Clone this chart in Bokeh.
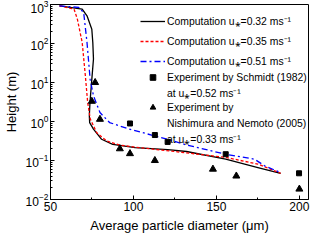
from bokeh.plotting import figure
from bokeh.models import Legend, LegendItem, FixedTicker, LogTicker
from bokeh.embed import file_html
from bokeh.resources import INLINE

# Computation curves (diameter um, height m)
d_032 = [55.4, 69.1, 72.0, 74.9, 75.5, 75.9, 74.9, 73.8, 73.4, 73.6, 75.9, 80.8, 87.5, 101, 120.6, 132, 155.6, 175, 188.7]
h_032 = [925, 760, 513, 232, 106, 40, 12, 3.1, 1.4, 0.94, 0.64, 0.35, 0.26, 0.215, 0.19, 0.17, 0.108, 0.066, 0.047]

d_035 = [55.4, 64.2, 66.2, 69.1, 71.0, 72.4, 74.0, 77.8, 83.7, 91.4, 101, 126.5, 155.6, 175, 188.7]
h_035 = [925, 760, 420, 106, 15, 3.1, 1.15, 0.52, 0.32, 0.25, 0.22, 0.167, 0.12, 0.081, 0.047]

d_051 = [55.4, 67.1, 70.0, 72.0, 73.9, 75.9, 79.8, 85.6, 97.3, 110.9, 120.6, 132, 155.6, 173, 179, 188.7]
h_051 = [925, 840, 620, 106, 12, 4.56, 1.7, 0.94, 0.64, 0.45, 0.35, 0.25, 0.145, 0.108, 0.073, 0.049]

# Experiments
d_schmidt = [97.9, 112.9, 120.6, 155.6, 199.8]
h_schmidt = [0.89, 0.45, 0.30, 0.145, 0.047]

d_nishi = [76.9, 74.9, 79.8, 91.8, 97.9, 112.9, 147.9, 162, 200]
h_nishi = [10, 3.3, 1.14, 0.2, 0.15, 0.1, 0.06, 0.04, 0.0185]

x_ticks = [50, 100, 150, 200]
x_minor = [75, 125, 175]

US = "u\u204e"
MS = "ms\u207b\u00b9"
labels_comp = [f"Computation {US}=0.32 {MS}",
               f"Computation {US}=0.35 {MS}",
               f"Computation {US}=0.51 {MS}"]
labels_schmidt = ["Experiment by Schmidt (1982)", f"at {US}=0.52 {MS}"]
labels_nishi = ["Experiment by", "Nishimura and Nemoto (2005)", f"at {US}=0.33 {MS}"]

FONT = "Liberation Sans"

p = figure(width=310, height=236, y_axis_type="log",
           x_range=(50, 205.5), y_range=(0.01, 1000),
           output_backend="svg", toolbar_location=None,
           min_border_left=41, min_border_right=2, min_border_top=4, min_border_bottom=37)

r1 = p.line(d_032, h_032, line_color="black", line_width=1.3)
r2 = p.line(d_035, h_035, line_color="red", line_width=1.3, line_dash="3 2")
r3 = p.line(d_051, h_051, line_color="blue", line_width=1.3, line_dash="6 3 2 3")
r4 = p.scatter(d_schmidt, h_schmidt, marker="square", size=5, color="black")
r5 = p.scatter(d_nishi, h_nishi, marker="triangle", size=7, color="black")
blank = p.scatter(x=[], y=[], alpha=0)

p.grid.visible = False
p.outline_line_color = "black"
p.outline_line_width = 1

p.xaxis.ticker = FixedTicker(ticks=x_ticks, minor_ticks=x_minor)
p.yaxis.ticker = LogTicker(num_minor_ticks=10)

for ax in (p.xaxis, p.yaxis):
    ax.major_tick_in = 4
    ax.major_tick_out = 0
    ax.minor_tick_in = 2
    ax.minor_tick_out = 0
    ax.major_label_text_font = FONT
    ax.major_label_text_font_size = "12px"
    ax.major_label_text_color = "black"
    ax.axis_label_text_font = FONT
    ax.axis_label_text_font_size = "13px"
    ax.axis_label_text_font_style = "normal"
    ax.axis_label_text_color = "black"
    ax.axis_line_color = "black"
    ax.major_tick_line_color = "black"
    ax.minor_tick_line_color = "black"
    ax.major_label_standoff = 2
    ax.axis_label_standoff = 4

p.xaxis.axis_label = "Average particle diameter (\u03bcm)"
p.yaxis.axis_label = "Height (m)"


def make_legend(items, loc, spacing):
    lg = Legend(items=items, location=loc)
    lg.label_text_font = FONT
    lg.label_text_font_size = "10.4px"
    lg.label_text_color = "black"
    lg.glyph_width = 25
    lg.glyph_height = 14
    lg.label_height = 14
    lg.spacing = spacing
    lg.padding = 0
    lg.margin = 0
    lg.label_standoff = 2
    lg.border_line_color = None
    lg.background_fill_alpha = 0
    p.add_layout(lg)


make_legend([LegendItem(label=labels_comp[0], renderers=[r1]),
             LegendItem(label=labels_comp[1], renderers=[r2]),
             LegendItem(label=labels_comp[2], renderers=[r3])], (90, 131), 6)
make_legend([LegendItem(label=labels_schmidt[0], renderers=[r4]),
             LegendItem(label=labels_schmidt[1], renderers=[blank])], (90, 99), 2)
make_legend([LegendItem(label=labels_nishi[0], renderers=[r5]),
             LegendItem(label=labels_nishi[1], renderers=[blank]),
             LegendItem(label=labels_nishi[2], renderers=[blank])], (90, 53), 2)

open("out.html", "w").write(file_html(p, INLINE))
